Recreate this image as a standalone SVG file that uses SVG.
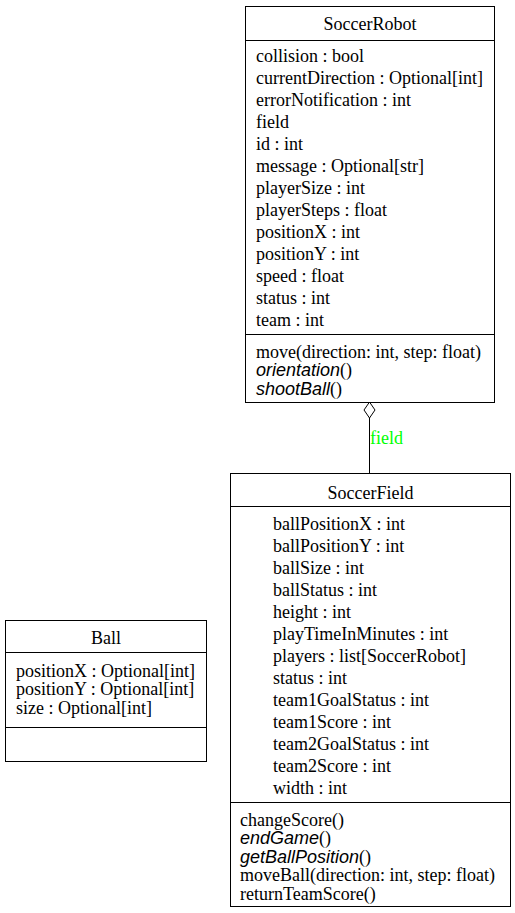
<svg xmlns="http://www.w3.org/2000/svg" width="515" height="913" viewBox="0 0 515 913">
<style>
.box{fill:#fff;stroke:#000;stroke-width:1}
.ln{stroke:#000;stroke-width:1;fill:none}
text{font-family:"Liberation Serif","Times New Roman",serif;font-size:18px;fill:#000}
.c{text-anchor:middle}
.it{font-family:"Liberation Sans",Arial,sans-serif;font-style:italic}
.lbl{fill:#00ff00}
</style>
<rect width="515" height="913" fill="#fff"/>
<g id="connectors">
<line class="ln" x1="369.5" y1="418" x2="369.5" y2="473"/>
<polygon points="369.5,402 375,410 369.5,418 364,410" fill="#fff" stroke="#000" stroke-width="1"/>
<text class="lbl" x="370" y="444">field</text>
</g>
<g id="SoccerRobot">
<rect class="box" x="245.5" y="6.5" width="249" height="396"/>
<line class="ln" x1="245.5" y1="40.5" x2="494.5" y2="40.5"/>
<line class="ln" x1="245.5" y1="334.5" x2="494.5" y2="334.5"/>
<text class="c" x="370" y="30">SoccerRobot</text>
<text x="256" y="62">collision : bool</text>
<text x="256" y="84">currentDirection : Optional[int]</text>
<text x="256" y="106">errorNotification : int</text>
<text x="256" y="128">field</text>
<text x="256" y="150">id : int</text>
<text x="256" y="172">message : Optional[str]</text>
<text x="256" y="194">playerSize : int</text>
<text x="256" y="216">playerSteps : float</text>
<text x="256" y="238">positionX : int</text>
<text x="256" y="260">positionY : int</text>
<text x="256" y="282">speed : float</text>
<text x="256" y="304">status : int</text>
<text x="256" y="326">team : int</text>
<text x="256" y="357.5">move(direction: int, step: float)</text>
<text x="256" y="376"><tspan class="it">orientation</tspan>()</text>
<text x="256" y="394.5"><tspan class="it">shootBall</tspan>()</text>
</g>
<g id="SoccerField">
<rect class="box" x="230.5" y="473.5" width="280" height="433"/>
<line class="ln" x1="230.5" y1="506.5" x2="510.5" y2="506.5"/>
<line class="ln" x1="230.5" y1="802.5" x2="510.5" y2="802.5"/>
<text class="c" x="370.5" y="498.5">SoccerField</text>
<text x="273" y="530">ballPositionX : int</text>
<text x="273" y="552">ballPositionY : int</text>
<text x="273" y="574">ballSize : int</text>
<text x="273" y="596">ballStatus : int</text>
<text x="273" y="618">height : int</text>
<text x="273" y="640">playTimeInMinutes : int</text>
<text x="273" y="662">players : list[SoccerRobot]</text>
<text x="273" y="684">status : int</text>
<text x="273" y="706">team1GoalStatus : int</text>
<text x="273" y="728">team1Score : int</text>
<text x="273" y="750">team2GoalStatus : int</text>
<text x="273" y="772">team2Score : int</text>
<text x="273" y="794">width : int</text>
<text x="240" y="825.5">changeScore()</text>
<text x="240" y="844"><tspan class="it">endGame</tspan>()</text>
<text x="240" y="862.5"><tspan class="it">getBallPosition</tspan>()</text>
<text x="240" y="881">moveBall(direction: int, step: float)</text>
<text x="240" y="899.5">returnTeamScore()</text>
</g>
<g id="Ball">
<rect class="box" x="5.5" y="620.5" width="201" height="141"/>
<line class="ln" x1="5.5" y1="652.5" x2="206.5" y2="652.5"/>
<line class="ln" x1="5.5" y1="727.5" x2="206.5" y2="727.5"/>
<text class="c" x="106" y="643.5">Ball</text>
<text x="16" y="676.5">positionX : Optional[int]</text>
<text x="16" y="695">positionY : Optional[int]</text>
<text x="16" y="713.5">size : Optional[int]</text>
</g>
</svg>
